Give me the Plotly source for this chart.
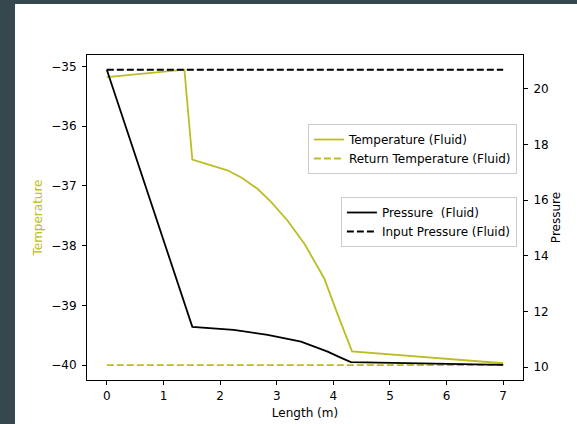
import plotly.graph_objects as go

# ---- data ----
temp_length = [0.0, 1.37, 1.51, 2.13, 2.39, 2.66, 2.90, 3.19, 3.49, 3.72, 3.84, 4.08, 4.33, 7.0]
temperature = [-35.18, -35.055, -36.56, -36.74, -36.87, -37.05, -37.27, -37.58, -37.97, -38.36, -38.55, -39.16, -39.77, -39.97]

return_length = [0.0, 7.0]
return_temperature = [-40.0, -40.0]

press_length = [0.0, 1.51, 2.24, 2.84, 3.43, 3.90, 4.10, 4.31, 7.0]
pressure = [20.68, 11.45, 11.34, 11.16, 10.92, 10.56, 10.37, 10.18, 10.08]

input_length = [0.0, 7.0]
input_pressure = [20.68, 20.68]

x_ticks = [0, 1, 2, 3, 4, 5, 6, 7]
temp_ticks = [-40, -39, -38, -37, -36, -35]
press_ticks = [10, 12, 14, 16, 18, 20]

OLIVE = "#bcbd22"
FONT = "DejaVu Sans"

fig = go.Figure()
fig.add_trace(go.Scatter(x=temp_length, y=temperature, mode="lines",
                         name="Temperature (Fluid)",
                         line=dict(color=OLIVE, width=1.8), legend="legend"))
fig.add_trace(go.Scatter(x=return_length, y=return_temperature, mode="lines",
                         name="Return Temperature (Fluid)",
                         line=dict(color=OLIVE, width=1.8, dash="7px,3px"), legend="legend"))
fig.add_trace(go.Scatter(x=press_length, y=pressure, mode="lines",
                         name="Pressure  (Fluid)", yaxis="y2",
                         line=dict(color="black", width=1.8), legend="legend2"))
fig.add_trace(go.Scatter(x=input_length, y=input_pressure, mode="lines",
                         name="Input Pressure (Fluid)", yaxis="y2",
                         line=dict(color="black", width=1.8, dash="7px,3px"), legend="legend2"))

W, H = 577, 424
ML, MR, MT, MB = 87, 54, 55, 44
pw = W - ML - MR
ph = H - MT - MB

axis_common = dict(showline=True, linecolor="black", linewidth=1, ticks="outside",
                   ticklen=4, tickwidth=1, tickcolor="black", showgrid=False,
                   zeroline=False, automargin=False,
                   tickfont=dict(family=FONT, size=12, color="black"))

legend_common = dict(bgcolor="rgba(255,255,255,0.8)", bordercolor="#cccccc", borderwidth=1,
                     font=dict(family=FONT, size=12, color="black"),
                     xanchor="right", yanchor="top", tracegroupgap=0)

fig.update_layout(
    template="none",
    width=W, height=H,
    margin=dict(l=ML, r=MR, t=MT, b=MB, pad=0),
    paper_bgcolor="#36474f",
    plot_bgcolor="white",
    font=dict(family=FONT, size=12, color="black"),
    xaxis=dict(range=[-0.35, 7.35], tickvals=x_ticks, mirror=True, ticklabelstandoff=1,
               title=dict(text="Length (m)", standoff=6,
                          font=dict(family=FONT, size=12, color="black")),
               **axis_common),
    yaxis=dict(range=[-40.25, -34.81], tickvals=temp_ticks, ticklabelstandoff=3,
               title=dict(text="Temperature", standoff=6,
                          font=dict(family=FONT, size=12, color=OLIVE)),
               **axis_common),
    yaxis2=dict(range=[9.54, 21.21], tickvals=press_ticks, overlaying="y", side="right",
                ticklabelstandoff=3,
                title=dict(text="Pressure", standoff=3,
                           font=dict(family=FONT, size=12, color="black")),
                **axis_common),
    legend=dict(x=0.986, y=(380 - 124) / ph, **legend_common),
    legend2=dict(x=0.986, y=(380 - 197) / ph, **legend_common),
    showlegend=True,
    shapes=[dict(type="rect", xref="paper", yref="paper", layer="below",
                 x0=(15 - ML) / pw, x1=1.3, y0=-0.3, y1=(380 - 4) / ph,
                 fillcolor="white", line=dict(width=0))],
)

fig.write_html("out.html")
